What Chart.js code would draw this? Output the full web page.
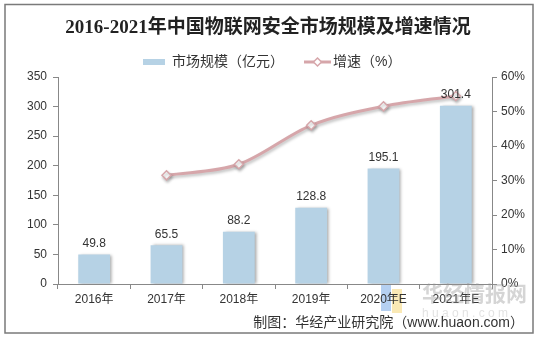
<!DOCTYPE html>
<html>
<head>
<meta charset="utf-8">
<script src="https://cdn.jsdelivr.net/npm/chart.js"></script>
<style>
  html, body { margin: 0; padding: 0; background: #fff; }
  #wrap { width: 537px; height: 339px; }
</style>
</head>
<body>
<div id="wrap"><canvas id="chart" width="537" height="339"></canvas></div>
<script>
// datos
const years = ['2016年', '2017年', '2018年', '2019年', '2020年E', '2021年E'];
const marketSize = [49.8, 65.5, 88.2, 128.8, 195.1, 301.4];
const growthRate = [null, 31.5, 34.7, 46.0, 51.5, 54.5];
const leftTicks = [0, 50, 100, 150, 200, 250, 300, 350];
const rightTicks = [0, 10, 20, 30, 40, 50, 60];

const titleText = '2016-2021年中国物联网安全市场规模及增速情况';
const sourceText = '制图：华经产业研究院（www.huaon.com）';
const barLabel = '市场规模（亿元）';
const lineLabel = '增速（%）';

const barColor = '#b6d2e5';
const lineColor = '#d6a6aa';
const textColor = '#333';
const axisColor = '#888';
const cjk = '"Liberation Sans", "Noto Sans CJK SC", sans-serif';

// título, leyenda, marco y texto de fuente
const decor = {
  id: 'decor',
  beforeDraw(chart) {
    const c = chart.ctx;
    c.save();
    c.fillStyle = '#fff';
    c.fillRect(0, 0, chart.width, chart.height);
    // marca de agua (detrás de todo)
    c.fillStyle = 'rgba(120,170,230,0.55)';
    c.fillRect(381, 285, 10, 26);
    c.fillStyle = 'rgba(245,215,120,0.55)';
    c.fillRect(392, 289, 10, 24);
    c.restore();
  },
  afterDraw(chart) {
    const c = chart.ctx;
    c.save();
    // marco
    c.strokeStyle = '#7a7a7a';
    c.lineWidth = 1.5;
    c.strokeRect(5, 4.5, 528, 328.5);

    // título
    c.fillStyle = '#222';
    c.font = 'bold 19px "Liberation Serif", "Noto Sans CJK SC", serif';
    c.textAlign = 'center';
    c.textBaseline = 'middle';
    c.fillText(titleText, 268, 28);

    // leyenda
    c.font = '14px ' + cjk;
    c.textAlign = 'left';
    c.fillStyle = barColor;
    c.fillRect(143, 59, 22, 6);
    c.fillStyle = textColor;
    c.fillText(barLabel, 172, 62);
    c.strokeStyle = lineColor;
    c.lineWidth = 3;
    c.beginPath();
    c.moveTo(304, 62);
    c.lineTo(331, 62);
    c.stroke();
    c.fillStyle = '#fff';
    c.lineWidth = 1.5;
    c.beginPath();
    c.moveTo(317.5, 58); c.lineTo(321.5, 62); c.lineTo(317.5, 66); c.lineTo(313.5, 62);
    c.closePath();
    c.fill(); c.stroke();
    c.fillStyle = textColor;
    c.fillText(lineLabel, 333, 62);

    // marca de agua
    c.fillStyle = 'rgba(150,150,150,0.4)';
    c.font = 'bold 21px "Noto Sans CJK SC", sans-serif';
    c.fillText('华经情报网', 422, 293);
    c.font = '12px "Liberation Sans", sans-serif';
    c.fillStyle = 'rgba(160,160,160,0.3)';
    c.fillText('h u a o n . c o m', 422, 314);

    // fuente
    c.fillStyle = textColor;
    c.font = '14px ' + cjk;
    c.textAlign = 'right';
    c.fillText(sourceText, 524, 323);

    // etiquetas de las barras
    const meta = chart.getDatasetMeta(0);
    c.font = '12px ' + cjk;
    c.textAlign = 'center';
    c.textBaseline = 'bottom';
    c.fillStyle = textColor;
    meta.data.forEach((bar, i) => {
      c.fillText(marketSize[i].toFixed(1), bar.x, bar.y - 5);
    });
    c.restore();
  }
};

// sombras suaves de barras y línea
const shadows = {
  id: 'shadows',
  beforeDatasetDraw(chart, args) {
    const c = chart.ctx;
    c.save();
    if (args.index === 0) {
      c.shadowColor = 'rgba(0,0,0,0.35)';
      c.shadowOffsetX = 2;
      c.shadowOffsetY = 0;
      c.shadowBlur = 3;
    } else {
      c.shadowColor = 'rgba(0,0,0,0.25)';
      c.shadowOffsetX = 1;
      c.shadowOffsetY = 2;
      c.shadowBlur = 3;
    }
  },
  afterDatasetDraw(chart) {
    chart.ctx.restore();
  }
};

new Chart(document.getElementById('chart'), {
  data: {
    labels: years,
    datasets: [
      {
        type: 'bar',
        label: barLabel,
        data: marketSize,
        backgroundColor: barColor,
        yAxisID: 'y',
        barPercentage: 0.88,
        categoryPercentage: 0.5,
        order: 2
      },
      {
        type: 'line',
        label: lineLabel,
        data: growthRate,
        borderColor: lineColor,
        borderWidth: 3,
        cubicInterpolationMode: 'monotone',
        pointStyle: 'rectRot',
        pointRadius: 4.5,
        pointBackgroundColor: '#fff',
        pointBorderColor: lineColor,
        pointBorderWidth: 1.5,
        yAxisID: 'y1',
        order: 1
      }
    ]
  },
  options: {
    responsive: false,
    animation: false,
    layout: { padding: { top: 77, left: 0, right: 0, bottom: 0 } },
    plugins: {
      legend: { display: false },
      title: { display: false },
      tooltip: { enabled: false }
    },
    scales: {
      x: {
        offset: true,
        grid: { display: true, offset: true, drawOnChartArea: false, drawTicks: true, tickLength: 5, color: axisColor },
        border: { color: axisColor },
        ticks: { color: textColor, font: { size: 12, family: cjk }, padding: 3, maxRotation: 0 },
        afterFit(s) { s.height = 55; }
      },
      y: {
        position: 'left',
        min: 0,
        max: 350,
        afterBuildTicks(s) { s.ticks = leftTicks.map(v => ({ value: v })); },
        grid: { drawOnChartArea: false, tickLength: 5, color: axisColor },
        border: { color: axisColor },
        ticks: { color: textColor, font: { size: 12, family: cjk }, padding: 6 },
        afterFit(s) { s.width = 58; }
      },
      y1: {
        position: 'right',
        min: 0,
        max: 60,
        afterBuildTicks(s) { s.ticks = rightTicks.map(v => ({ value: v })); },
        grid: { drawOnChartArea: false, tickLength: 5, color: axisColor },
        border: { color: axisColor },
        ticks: { color: textColor, font: { size: 12, family: cjk }, padding: 4, callback: v => v + '%' },
        afterFit(s) { s.width = 45; }
      }
    }
  },
  plugins: [decor, shadows]
});
</script>
</body>
</html>
